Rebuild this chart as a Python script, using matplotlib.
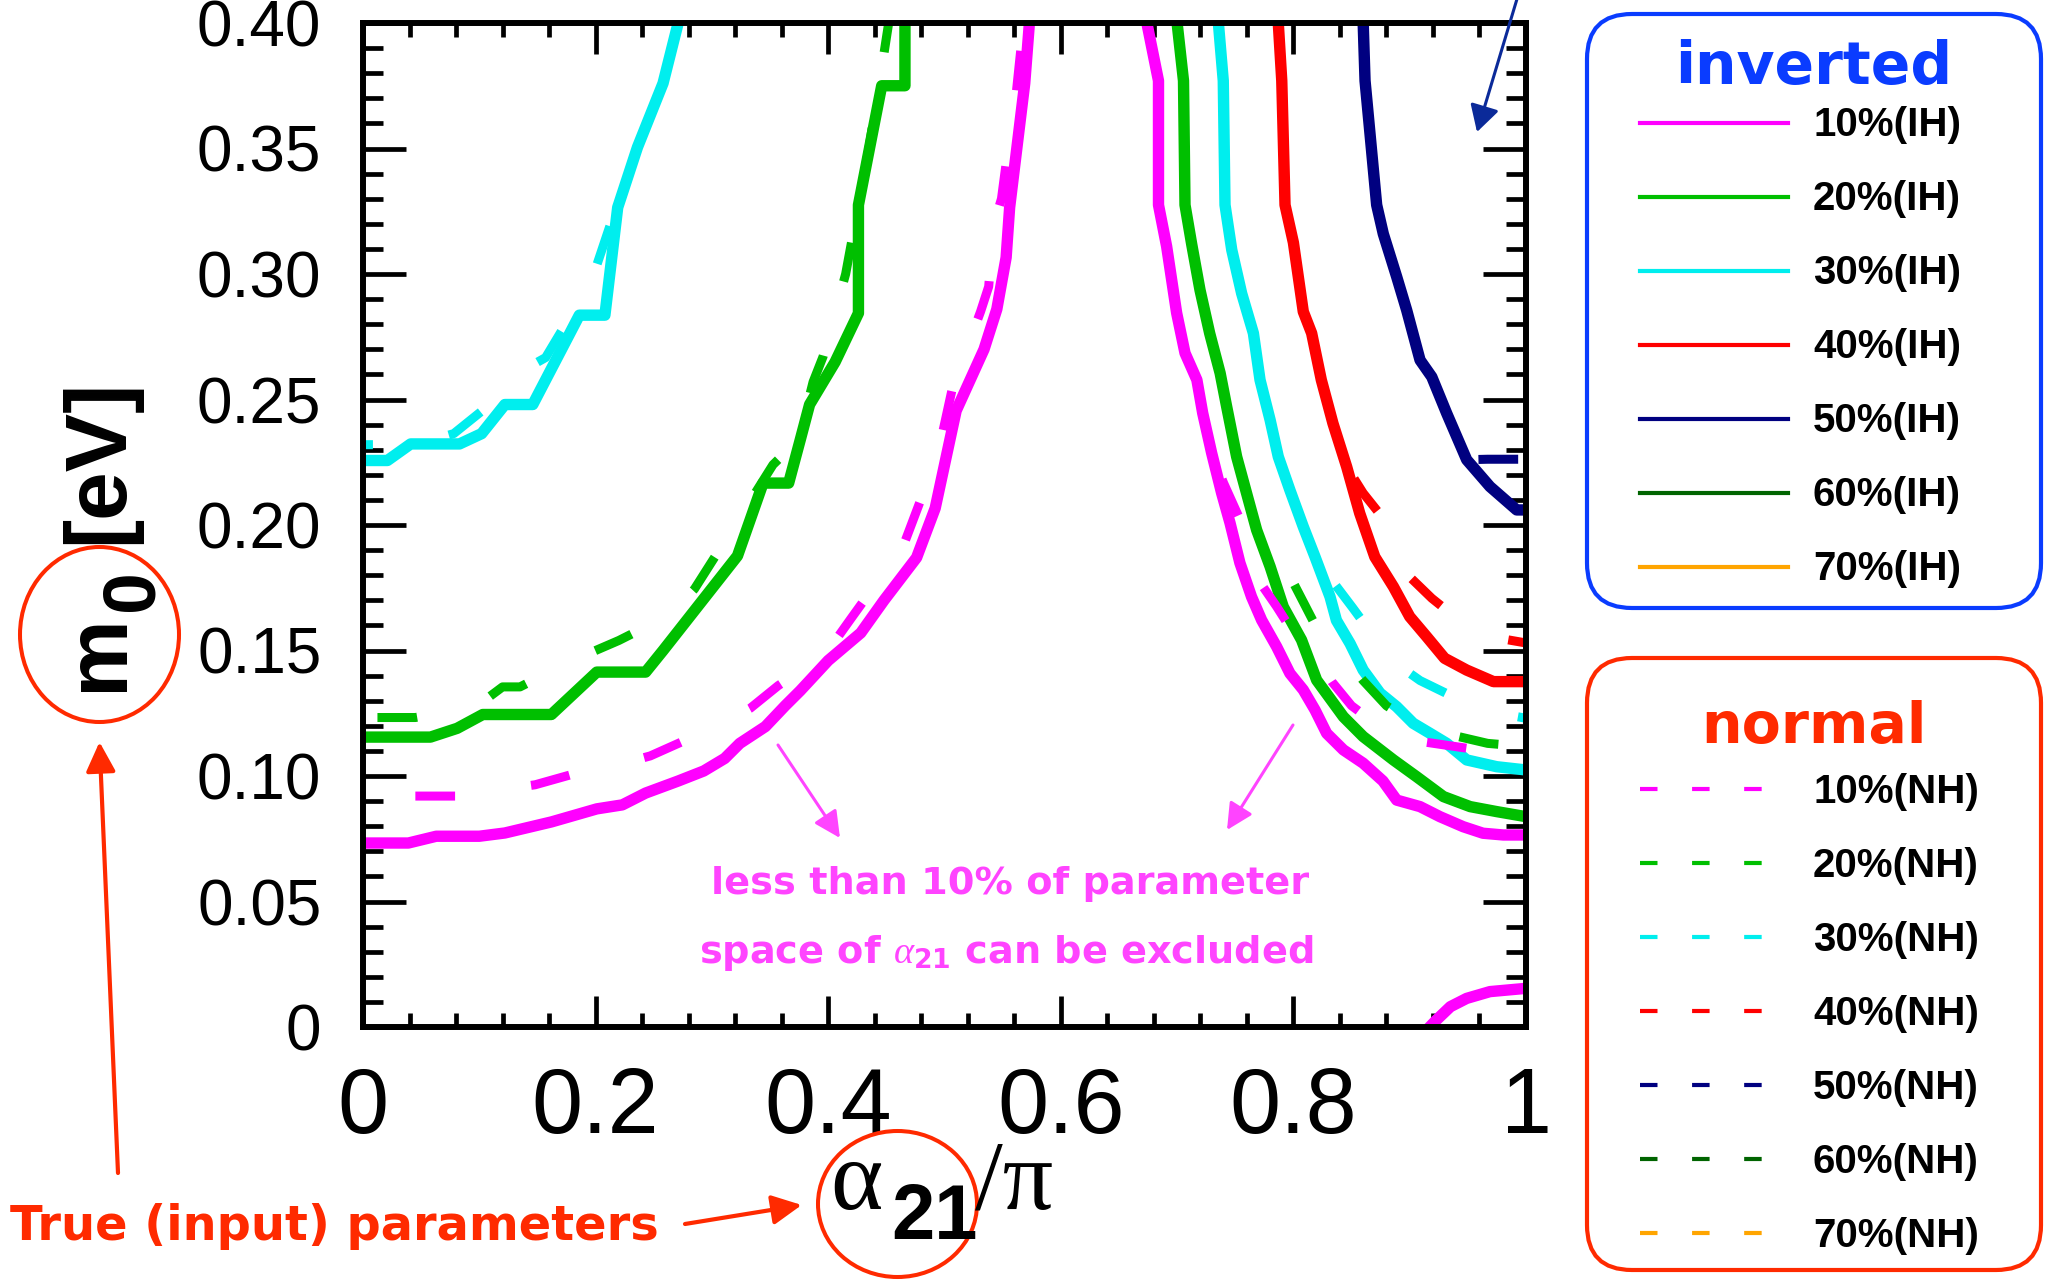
import matplotlib
matplotlib.use("Agg")
import matplotlib.pyplot as plt
from matplotlib.patches import FancyBboxPatch, Ellipse
from matplotlib.lines import Line2D
from matplotlib.ticker import MultipleLocator
from matplotlib.transforms import IdentityTransform

plt.rcParams['font.family'] = 'Liberation Sans'
plt.rcParams['mathtext.fontset'] = 'custom'
plt.rcParams['mathtext.rm'] = 'DejaVu Sans:bold'
plt.rcParams['mathtext.it'] = 'Liberation Serif:italic'

W, H, DPI = 2049, 1281, 100
HAND = 'DejaVu Sans'

# ---- curves: x = alpha21/pi, y = m0 [eV] ----
# 10%
ih10_lx = [0.000, 0.039, 0.063, 0.100, 0.122, 0.162, 0.201, 0.223, 0.243, 0.271, 0.293, 0.311, 0.324, 0.346,
           0.363, 0.376, 0.400, 0.428, 0.448, 0.476, 0.492, 0.510, 0.534, 0.545, 0.553, 0.556, 0.569, 0.573]
ih10_ly = [0.0733, 0.0733, 0.0760, 0.0760, 0.0773, 0.0817, 0.0869, 0.0885, 0.0932, 0.0980, 0.1020, 0.1070, 0.1130,
           0.1197, 0.1280, 0.1340, 0.1460, 0.1570, 0.1700, 0.1870, 0.2067, 0.2455, 0.2700, 0.2860, 0.3066, 0.3265,
           0.3760, 0.4000]
nh10_lx = [0.000, 0.045, 0.081, 0.110, 0.148, 0.181, 0.215, 0.247, 0.276, 0.305, 0.333, 0.357, 0.380, 0.400, 0.420,
           0.452, 0.466, 0.485, 0.494, 0.507, 0.531, 0.538, 0.5425, 0.549, 0.556, 0.560, 0.568]
nh10_ly = [0.092, 0.092, 0.092, 0.094, 0.0965, 0.1008, 0.104, 0.108, 0.114, 0.120, 0.127, 0.136, 0.143, 0.150, 0.163,
           0.1836, 0.1934, 0.2167, 0.2275, 0.255, 0.285, 0.295, 0.320, 0.330, 0.3546, 0.3645, 0.400]
ih10_rx = [0.674, 0.684, 0.684, 0.691, 0.6996, 0.7068, 0.717, 0.722, 0.7297, 0.7383, 0.7455, 0.754, 0.764, 0.7727,
           0.7856, 0.797, 0.8085, 0.8186, 0.8286, 0.843, 0.860, 0.877, 0.8888, 0.9089, 0.926, 0.946, 0.963, 0.9805, 1.0]
ih10_ry = [0.400, 0.377, 0.3275, 0.311, 0.2845, 0.2685, 0.2578, 0.2446, 0.2287, 0.2127, 0.2008, 0.1849, 0.1714, 0.1621,
           0.1515, 0.1409, 0.1343, 0.1263, 0.117, 0.1104, 0.1051, 0.0980, 0.0904, 0.0878, 0.0838, 0.0798, 0.0772, 0.0765,
           0.0765]
nh10_rx = [0.674, 0.684, 0.684, 0.691, 0.6996, 0.7068, 0.717, 0.722, 0.7297, 0.740, 0.753, 0.770, 0.7856, 0.800,
           0.820, 0.833, 0.850, 0.876, 0.906, 0.950, 1.0]
nh10_ry = [0.400, 0.377, 0.3275, 0.311, 0.2845, 0.2685, 0.2578, 0.2446, 0.2287, 0.2167, 0.2033, 0.178, 0.1675, 0.157,
           0.147, 0.1376, 0.128, 0.119, 0.114, 0.111, 0.109]
ih10_bx = [0.913, 0.923, 0.935, 0.949, 0.969, 1.0]
ih10_by = [-0.002, 0.0028, 0.0081, 0.0114, 0.0141, 0.0154]

# 20%
ih20_lx = [0.000, 0.058, 0.081, 0.103, 0.162, 0.201, 0.243, 0.258, 0.322, 0.344, 0.366, 0.376, 0.384, 0.406, 0.426,
           0.426, 0.446, 0.466, 0.466]
ih20_ly = [0.1155, 0.1155, 0.1190, 0.1245, 0.1245, 0.1414, 0.1414, 0.1500, 0.1877, 0.2167, 0.2167, 0.2340, 0.2480,
           0.2650, 0.2844, 0.3275, 0.3750, 0.3750, 0.4000]
nh20_lx = [0.000, 0.045, 0.080, 0.107, 0.120, 0.135, 0.180, 0.220, 0.265, 0.285, 0.320, 0.3525, 0.3745, 0.387, 0.3955,
           0.415, 0.435, 0.448, 0.452]
nh20_ly = [0.1233, 0.1233, 0.1260, 0.1310, 0.1355, 0.1355, 0.1460, 0.1540, 0.1645, 0.1745, 0.2000, 0.2240, 0.2340,
           0.2570, 0.2670, 0.3000, 0.3500, 0.3880, 0.4000]
ih20_rx = [0.700, 0.7055, 0.7068, 0.7125, 0.7197, 0.728, 0.737, 0.7426, 0.7512, 0.7613, 0.7684, 0.780, 0.7913, 0.807,
           0.820, 0.843, 0.860, 0.886, 0.906, 0.929, 0.952, 0.975, 1.0]
ih20_ry = [0.400, 0.377, 0.3275, 0.312, 0.2936, 0.2764, 0.2605, 0.2472, 0.2272, 0.210, 0.198, 0.1834, 0.1674, 0.1542,
           0.1382, 0.1236, 0.1157, 0.1064, 0.0997, 0.0918, 0.0878, 0.0858, 0.0838]
nh20_rx = [0.700, 0.7055, 0.7068, 0.7125, 0.7197, 0.728, 0.737, 0.7426, 0.7512, 0.7613, 0.7684, 0.780, 0.7955, 0.810,
           0.820, 0.8387, 0.860, 0.880, 0.900, 0.930, 0.967, 1.0]
nh20_ry = [0.400, 0.377, 0.3275, 0.312, 0.2936, 0.2764, 0.2605, 0.2472, 0.2272, 0.210, 0.198, 0.191, 0.181, 0.168,
           0.159, 0.150, 0.138, 0.128, 0.122, 0.117, 0.113, 0.1117]

# 30%
ih30_lx = [0.000, 0.021, 0.041, 0.083, 0.102, 0.122, 0.146, 0.186, 0.208, 0.219, 0.236, 0.258, 0.271]
ih30_ly = [0.2257, 0.2257, 0.2323, 0.2323, 0.2364, 0.2480, 0.2480, 0.2836, 0.2836, 0.3265, 0.3505, 0.3760, 0.4000]
nh30_lx = [0.000, 0.015, 0.060, 0.078, 0.100, 0.120, 0.135, 0.157, 0.184, 0.197, 0.214, 0.236, 0.258, 0.271]
nh30_ly = [0.232, 0.232, 0.234, 0.2364, 0.2446, 0.252, 0.261, 0.2667, 0.2876, 0.298, 0.3215, 0.3505, 0.376, 0.400]
ih30_rx = [0.7355, 0.7397, 0.7412, 0.747, 0.7555, 0.7656, 0.7713, 0.780, 0.787, 0.797, 0.8085, 0.8186, 0.8315, 0.837,
           0.8487, 0.860, 0.8745, 0.8888, 0.903, 0.9175, 0.9318, 0.949, 0.9748, 1.0]
ih30_ry = [0.400, 0.377, 0.3275, 0.3096, 0.2923, 0.2764, 0.2578, 0.2418, 0.2272, 0.2139, 0.1993, 0.1873, 0.1714, 0.162,
           0.1528, 0.1422, 0.133, 0.1276, 0.121, 0.117, 0.113, 0.1064, 0.1037, 0.1024]
nh30_rx = [0.7355, 0.7397, 0.7412, 0.747, 0.7555, 0.7656, 0.7713, 0.780, 0.787, 0.797, 0.8085, 0.8186, 0.834, 0.851,
           0.870, 0.8845, 0.909, 0.940, 0.969, 1.0]
nh30_ry = [0.400, 0.377, 0.3275, 0.3096, 0.2923, 0.2764, 0.2578, 0.2418, 0.2272, 0.2139, 0.1993, 0.1873, 0.1774, 0.167,
           0.155, 0.146, 0.138, 0.131, 0.1256, 0.123]

# 40%
ih40_rx = [0.787, 0.790, 0.7928, 0.800, 0.8085, 0.8157, 0.824, 0.834, 0.8458, 0.857, 0.870, 0.886, 0.900, 0.9146,
           0.930, 0.949, 0.972, 1.0]
ih40_ry = [0.400, 0.377, 0.3275, 0.3125, 0.285, 0.2764, 0.2578, 0.2405, 0.2232, 0.2047, 0.1873, 0.1754, 0.1635, 0.1555,
           0.1469, 0.1422, 0.1376, 0.1376]
nh40_rx = [0.787, 0.790, 0.7928, 0.800, 0.8085, 0.8157, 0.824, 0.834, 0.8458, 0.860, 0.877, 0.8985, 0.919, 0.940,
           0.969, 1.0]
nh40_ry = [0.400, 0.377, 0.3275, 0.3125, 0.285, 0.2764, 0.2578, 0.2405, 0.2232, 0.2127, 0.2028, 0.180, 0.1708, 0.163,
           0.1555, 0.153]

# 50%
ih50_rx = [0.860, 0.8616, 0.8716, 0.8773, 0.8888, 0.8974, 0.9089, 0.919, 0.9318, 0.949, 0.969, 0.992, 1.0]
ih50_ry = [0.400, 0.377, 0.3275, 0.316, 0.2989, 0.2856, 0.2657, 0.259, 0.2445, 0.226, 0.2153, 0.206, 0.206]
nh50_rx = [0.860, 0.8616, 0.8716, 0.8773, 0.8888, 0.8974, 0.9089, 0.919, 0.9318, 0.949, 0.967, 1.0]
nh50_ry = [0.400, 0.377, 0.3275, 0.316, 0.2989, 0.2856, 0.2657, 0.259, 0.2445, 0.226, 0.2262, 0.2262]

levels = ['10%', '20%', '30%', '40%', '50%', '60%', '70%']
level_colors = ['#ff00ff', '#00bf00', '#00eeee', '#ff0000', '#000080', '#006400', '#ffa500']
ih_labels = [lv + '(IH)' for lv in levels]
nh_labels = [lv + '(NH)' for lv in levels]

xtick_vals = [0, 0.2, 0.4, 0.6, 0.8, 1.0]
xtick_labels = ['0', '0.2', '0.4', '0.6', '0.8', '1']
ytick_vals = [0, 0.05, 0.10, 0.15, 0.20, 0.25, 0.30, 0.35, 0.40]
ytick_labels = ['0', '0.05', '0.10', '0.15', '0.20', '0.25', '0.30', '0.35', '0.40']

red = '#ff2a00'
note_c = '#ff44ff'
blue_box = '#0a3cff'

fig = plt.figure(figsize=(W / DPI, H / DPI), dpi=DPI)
ax = fig.add_axes([363 / W, 1 - 1027 / H, 1163 / W, 1004 / H])

solid = [
    (ih10_lx, ih10_ly, 0), (ih10_rx, ih10_ry, 0), (ih10_bx, ih10_by, 0),
    (ih20_lx, ih20_ly, 1), (ih20_rx, ih20_ry, 1),
    (ih30_lx, ih30_ly, 2), (ih30_rx, ih30_ry, 2),
    (ih40_rx, ih40_ry, 3), (ih50_rx, ih50_ry, 4),
]
# last field: dash phase (in line widths) where each NH line starts
dashed = [
    (nh10_lx, nh10_ly, 0, 7.1), (nh10_rx, nh10_ry, 0, 0), (ih10_bx, ih10_by, 0, 0),
    (nh20_lx, nh20_ly, 1, 11.3), (nh20_rx, nh20_ry, 1, 0),
    (nh30_lx, nh30_ly, 2, 3.3), (nh30_rx, nh30_ry, 2, 0),
    (nh40_rx, nh40_ry, 3, 0), (nh50_rx, nh50_ry, 4, 0),
]
for xs, ys, i in solid:
    ax.plot(xs, ys, color=level_colors[i], lw=8.2)
for xs, ys, i, phase in dashed:
    ax.plot(xs, ys, color=level_colors[i], lw=6.5, linestyle=(phase, (4.4, 8.5)))

ax.set_xlim(0, 1)
ax.set_ylim(0, 0.4)
ax.set_xticks(xtick_vals, xtick_labels)
ax.set_yticks(ytick_vals, ytick_labels)
ax.xaxis.set_minor_locator(MultipleLocator(0.04))
ax.yaxis.set_minor_locator(MultipleLocator(0.01))
ax.tick_params(which='both', direction='in', top=True, right=True, width=3.4, color='black')
ax.tick_params(axis='x', which='major', length=22, labelsize=66, pad=28)
ax.tick_params(axis='x', which='minor', length=10)
ax.tick_params(axis='y', which='major', length=31, labelsize=46, pad=30)
ax.tick_params(axis='y', which='minor', length=14.5)
for sp in ax.spines.values():
    sp.set_linewidth(4.3)

# ---- everything outside the data area is placed in output pixels (y down) ----
px = IdentityTransform()


def put(x, y, s, **kw):
    return fig.text(x, H - y, s, transform=px, **kw)


def arrow(x0, y0, x1, y1, color, lw, hl, hw):
    ax.annotate('', xy=(x1, H - y1), xycoords='figure pixels',
                xytext=(x0, H - y0), textcoords='figure pixels',
                arrowprops=dict(arrowstyle=f'-|>,head_length={hl},head_width={hw}',
                                color=color, lw=lw, shrinkA=0, shrinkB=0, mutation_scale=1))


# axis labels
put(122, 691, 'm', rotation=90, rotation_mode='anchor', ha='left', va='baseline', fontsize=63, weight='bold')
put(153, 611, '0', rotation=90, rotation_mode='anchor', ha='left', va='baseline', fontsize=54, weight='bold')
put(122, 544, '[eV]', rotation=90, rotation_mode='anchor', ha='left', va='baseline', fontsize=63, weight='bold')

put(830, 1209, 'α', family='Liberation Serif', fontsize=72, va='baseline')
put(891, 1239, '21', fontsize=56, weight='bold', va='baseline')
put(975, 1209, '/π', family='Liberation Serif', fontsize=72, va='baseline')

# true-parameter markers
fig.add_artist(Ellipse((99.5, H - 634.5), 159, 175, transform=px, fill=False, ec=red, lw=2.9))
fig.add_artist(Ellipse((897.5, H - 1204), 159, 146, transform=px, fill=False, ec=red, lw=2.9))
put(10, 1239.5, 'True (input) parameters', color=red, fontsize=34.5, family=HAND, weight='bold',
    va='baseline')
arrow(118, 1173, 99.5, 742, red, 3, 18, 9)
arrow(685, 1224, 801.7, 1205, red, 3, 18, 9)

# note inside the plot
put(1010, 894, 'less than 10% of parameter', color=note_c, fontsize=27.5, family=HAND, weight='bold',
    ha='center', va='baseline')
put(1006, 962.7, r'space of $\alpha_{21}$ can be excluded', color=note_c, fontsize=27.5, family=HAND,
    weight='bold', ha='center', va='baseline')
arrow(778, 745, 840, 838, note_c, 2.2, 16, 8)
arrow(1293, 725, 1227, 830, note_c, 2.2, 16, 8)
arrow(1519.7, -10, 1477, 132, '#0b2a99', 2.2, 16, 9)


def legend_box(y0, y1, edge, title, title_y, title_size, labels, row0, is_dashed):
    x0, x1 = 1587, 2041
    fig.add_artist(FancyBboxPatch((x0, H - y1), x1 - x0, y1 - y0, boxstyle='round,pad=0,rounding_size=45',
                                  transform=px, fill=False, ec=edge, lw=3))
    put(1814, title_y, title, color=edge, fontsize=title_size, family=HAND, weight='bold', ha='center',
        va='baseline')
    for i, lab in enumerate(labels):
        y = row0 + i * 74
        end = 1761.5 if is_dashed else 1788
        ln = Line2D([1640, end], [H - y, H - y], transform=px, color=level_colors[i], lw=3)
        if is_dashed:
            ln.set_dashes((4.2, 8.3))
        fig.add_artist(ln)
        put(1813, y + 14, lab, fontsize=29, weight='bold', va='baseline')


legend_box(14, 608, blue_box, 'inverted', 84, 42, ih_labels, 122.5, False)
legend_box(658, 1270, red, 'normal', 742.5, 41, nh_labels, 789, True)

fig.savefig('out.png', dpi=DPI)
